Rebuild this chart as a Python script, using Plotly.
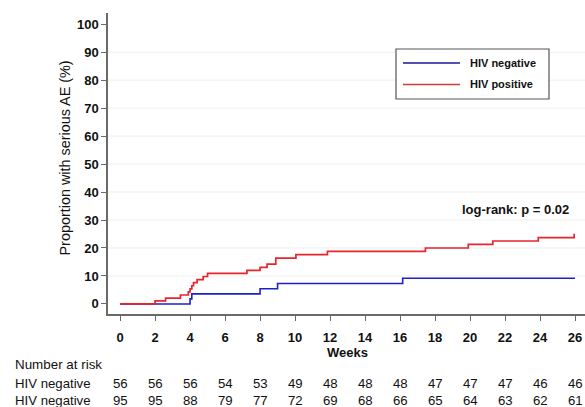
import plotly.graph_objects as go

# Step data (weeks, cumulative %)
neg_weeks = [0, 4.0, 4.1, 8.0, 9.0, 16.15, 26]
neg_vals = [0, 1.8, 3.6, 5.4, 7.3, 9.2, 9.2]

pos_weeks = [0, 2.0, 2.6, 3.45, 3.9, 4.0, 4.1, 4.2, 4.4, 4.75, 5.0, 7.25, 8.0, 8.4,
             8.9, 10.05, 11.85, 17.45, 19.9, 21.3, 23.9, 25.95, 26]
pos_vals = [0, 1.1, 2.1, 3.2, 4.3, 5.4, 6.5, 7.6, 8.7, 9.8, 10.9, 12.0, 13.1, 14.2,
            16.4, 17.6, 18.8, 20.0, 21.3, 22.5, 23.7, 24.8, 24.8]

risk_weeks = [0, 2, 4, 6, 8, 10, 12, 14, 16, 18, 20, 22, 24, 26]
risk_neg = [56, 56, 56, 54, 53, 49, 48, 48, 48, 47, 47, 47, 46, 46]
risk_pos = [95, 95, 88, 79, 77, 72, 69, 68, 66, 65, 64, 63, 62, 61]
row_labels = ["HIV negative", "HIV negative"]

x_ticks = list(range(0, 27, 2))
y_ticks = list(range(0, 101, 10))

BLUE = "#1f1fc8"
RED = "#e8242c"
AX = "#6a6a6a"
FONT = "Liberation Sans, Arial"

# plot area spans x 108..585, y 13..314 of the 585x407 page
W, H = 585, 407
PL, PR, PT, PB = 108, 585, 13, 314
PW, PH = PR - PL, PB - PT


def px(xabs):
    return (xabs - PL) / PW


def py(yabs):
    return (PB - yabs) / PH


fig = go.Figure()
fig.add_trace(go.Scatter(x=neg_weeks, y=neg_vals, mode="lines", line_shape="hv",
                         line=dict(color=BLUE, width=1.6), name="HIV negative"))
fig.add_trace(go.Scatter(x=pos_weeks, y=pos_vals, mode="lines", line_shape="hv",
                         line=dict(color=RED, width=1.7), name="HIV positive"))

shapes = []
for v in y_ticks[1:-1]:
    shapes.append(dict(type="line", xref="paper", x0=0, x1=1, yref="y", y0=v, y1=v,
                       line=dict(color="#efefef", width=1), layer="below"))
# legend box
shapes.append(dict(type="rect", xref="paper", yref="paper",
                   x0=px(396), x1=px(549), y0=py(99), y1=py(49),
                   line=dict(color="#555555", width=1.2), fillcolor="white"))
shapes.append(dict(type="line", xref="paper", yref="paper",
                   x0=px(403), x1=px(460), y0=py(63), y1=py(63),
                   line=dict(color="#1a1a9a", width=1.5)))
shapes.append(dict(type="line", xref="paper", yref="paper",
                   x0=px(403), x1=px(460), y0=py(84.5), y1=py(84.5),
                   line=dict(color="#d83838", width=1.5)))

ann = []
ann.append(dict(xref="paper", yref="paper", x=px(467.5), y=py(63),
                text="HIV negative", showarrow=False, xanchor="left", yanchor="middle",
                font=dict(family=FONT, size=11, color="#111", weight="bold")))
ann.append(dict(xref="paper", yref="paper", x=px(467.5), y=py(84.5),
                text="HIV positive", showarrow=False, xanchor="left", yanchor="middle",
                font=dict(family=FONT, size=11, color="#111", weight="bold")))
ann.append(dict(xref="paper", yref="paper", x=px(571), y=py(209.5),
                text="log-rank: p = 0.02", showarrow=False, xanchor="right", yanchor="middle",
                font=dict(family=FONT, size=13, color="#111", weight="bold")))
ann.append(dict(xref="x", yref="paper", x=13, y=0, yshift=-(352.5 - PB),
                text="Weeks", showarrow=False, xanchor="center", yanchor="middle",
                font=dict(family=FONT, size=13, color="#111", weight="bold")))
ann.append(dict(xref="paper", yref="paper", x=px(64), y=py(158.5),
                text="Proportion with serious AE (%)", showarrow=False, textangle=-90,
                xanchor="center", yanchor="middle",
                font=dict(family=FONT, size=14.4, color="#111")))
ann.append(dict(xref="paper", yref="paper", x=px(12.5), y=0, yshift=-(364 - PB),
                text="Number at risk", showarrow=False, xanchor="left", yanchor="middle",
                font=dict(family=FONT, size=13.4, color="#111")))
for row, (lab, vals) in enumerate(zip(row_labels, [risk_neg, risk_pos])):
    ypix = [383, 400.5][row]
    ann.append(dict(xref="paper", yref="paper", x=px(12.5), y=0,
                    yshift=-(ypix - PB), text=lab, showarrow=False, xanchor="left",
                    yanchor="middle", font=dict(family=FONT, size=13.2, color="#111")))
    for w, v in zip(risk_weeks, vals):
        ann.append(dict(xref="x", yref="paper", x=w, y=0, yshift=-(ypix - PB),
                        text=str(v), showarrow=False, xanchor="center", yanchor="middle",
                        font=dict(family=FONT, size=13.2, color="#111")))

fig.update_layout(
    width=W, height=H,
    margin=dict(l=PL, r=W - PR, t=PT, b=H - PB, pad=0),
    paper_bgcolor="white", plot_bgcolor="white",
    showlegend=False,
    shapes=shapes, annotations=ann,
    xaxis=dict(range=[-0.69, 26.57], tickvals=x_ticks, ticks="outside", ticklen=5,
               tickwidth=1.2, tickcolor=AX, showline=True, linecolor=AX, linewidth=1.5,
               showgrid=False, zeroline=False, ticklabelstandoff=6,
               tickfont=dict(family=FONT, size=13, color="#111", weight="bold")),
    yaxis=dict(range=[-3.6, 104], tickvals=y_ticks, ticks="outside", ticklen=5,
               tickwidth=1.2, tickcolor=AX, showline=True, linecolor=AX, linewidth=1.5,
               showgrid=False, zeroline=False, ticklabelstandoff=0,
               tickfont=dict(family=FONT, size=13, color="#111", weight="bold")),
)

fig.write_html(
    "out.html",
    config={"displayModeBar": False},
    post_script="document.body.style.margin='0';document.body.style.overflow='hidden';",
)
